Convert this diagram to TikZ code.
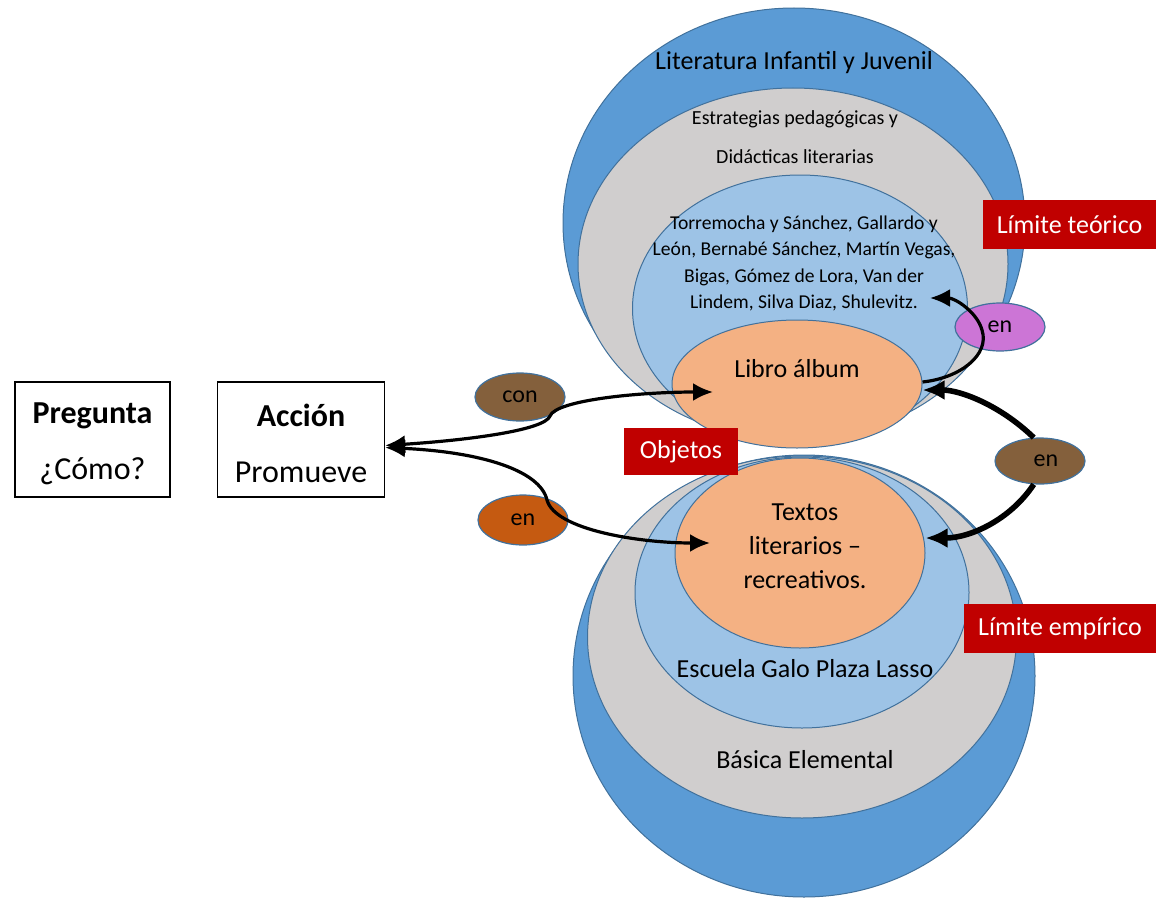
\documentclass[tikz,border=0pt]{standalone}
\usepackage{fontspec}
\setmainfont{Carlito}
\usepackage{tikz}
\usetikzlibrary{arrows.meta, positioning, shapes.geometric}

\definecolor{ringline}{HTML}{41719C}
\definecolor{outerblue}{HTML}{5B9BD5}
\definecolor{ringgray}{HTML}{D0CECE}
\definecolor{paleblue}{HTML}{9DC3E6}
\definecolor{peach}{HTML}{F4B183}
\definecolor{tagred}{HTML}{C00000}
\definecolor{brownbub}{HTML}{84603C}
\definecolor{rustbub}{HTML}{C55A11}
\definecolor{orchidbub}{HTML}{CC75D6}

\tikzset{%
   % concentric fields, sized by their half axes
   ring/.style={
      ellipse,
      draw=ringline,
      line width=.5pt,
      inner sep=0pt
   },
   bubble/.style={
      ellipse,
      draw=ringline,
      line width=.6pt,
      inner sep=0pt,
      minimum width=45pt,
      font=\fontsize{12}{14}\selectfont
   },
   tag/.style={
      fill=tagred,
      text=white,
      inner sep=0pt,
      minimum height=24.5pt,
      font=\fontsize{13}{15}\selectfont
   },
   qbox/.style={
      draw,
      line width=.6pt,
      align=center,
      minimum height=57.5pt,
      font=\fontsize{16}{28}\selectfont
   },
   txt/.style={
      align=center,
      inner sep=0pt,
      font=\fontsize{13}{17}\selectfont
   },
   link/.style={
      line width=1.6pt,
      -{Latex[length=10pt,width=9pt]}
   },
   blink/.style={
      line width=1.6pt,
      {Latex[length=10pt,width=9pt]}-{Latex[length=10pt,width=9pt]}
   },
   heavy/.style={
      line width=2.8pt,
      -{Latex[length=11pt,width=10pt]}
   },
}

\begin{document}
\begin{tikzpicture}[x=.5pt, y=-.5pt]
\useasboundingbox (0,0) rectangle (1156,899);

% upper field
\node[ring, fill=outerblue, minimum width=231pt, minimum height=215pt] (litring) at (794,223) {};
\node[ring, fill=ringgray, minimum width=215pt, minimum height=176pt] (estring) at (793,264) {};
\node[ring, fill=paleblue, minimum width=167.5pt, minimum height=133.5pt] (autring) at (800,308.5) {};
\node[ring, fill=peach, minimum width=125pt, minimum height=64pt] (libro) at (797,384) {};

% lower field
\node[ring, fill=outerblue, minimum width=231pt, minimum height=221pt] (basring) at (804,676) {};
\node[ring, fill=ringgray, minimum width=214.5pt, minimum height=181pt] (elering) at (802,637) {};
\node[ring, fill=paleblue, minimum width=167pt, minimum height=135.5pt] (escring) at (802,592.5) {};
\node[ring, fill=peach, minimum width=125pt, minimum height=95pt] (textos) at (800,553) {};

\node[txt] (lit) at (794,63) {Literatura Infantil y Juvenil};
\node[txt, font=\fontsize{10}{19.5}\selectfont] (estr) at (795,137.5)
   {Estrategias pedagógicas y\\Didácticas literarias};
\node[txt, font=\fontsize{9.8}{13.25}\selectfont] (autores) at (804,263.5)
   {Torremocha y Sánchez, Gallardo y\\León, Bernabé Sánchez, Martín Vegas,\\Bigas, Gómez de Lora, Van der\\Lindem, Silva Diaz, Shulevitz.};
\node[txt] (libtxt) at (797,369) {Libro álbum};
\node[txt] (textxt) at (805,546) {Textos\\literarios –\\recreativos.};
\node[txt] (escuela) at (805,669) {Escuela Galo Plaza Lasso};
\node[txt] (basica) at (805,760) {Básica Elemental};

% question and action
\node[qbox, minimum width=77.5pt] (preg) at (92.5,439.5) {\rule{0pt}{15pt}\textbf{Pregunta}\\¿Cómo?};
\node[qbox, minimum width=83.5pt] (acc) at (301,439.5) {\rule{0pt}{15pt}\textbf{Acción}\\Promueve};

\node[bubble, fill=brownbub, minimum height=24pt] (con) at (520,397) {con};
\node[bubble, fill=rustbub, minimum height=25pt] (enl) at (523,520) {en};
\node[bubble, fill=orchidbub, minimum height=24pt] (enp) at (1000,327) {en};
\node[bubble, fill=brownbub, minimum height=23pt] (enb) at (1040,461) {\hspace{6pt}en};

\draw[blink] ([yshift=-3pt]acc.east) .. controls (470,440) and (545,430) .. (550,416)
   .. controls (556,400) and (640,392) .. ([xshift=-42pt,yshift=-4pt]libro.center);
\draw[blink] ([yshift=-4pt]acc.east) .. controls (480,452) and (540,470) .. (547,500)
   .. controls (555,530) and (640,543) .. ([xshift=-45pt,yshift=5pt]textos.center);
\draw[link] ([yshift=1pt]libro.east) .. controls (960,378) and (990,355) .. (982,330)
   .. controls (977,312) and (955,298) .. ([xshift=65pt,yshift=5.25pt]autring.center);
\draw[heavy] (enb.105) .. controls (1000,405) and (960,390) .. ([yshift=-3pt]libro.east);
\draw[heavy] (enb.-105) .. controls (1010,520) and (970,538) .. ([yshift=7.5pt]textos.east);

\node[tag, minimum width=86.5pt] (limteo) at (1069.5,224.5) {Límite teórico};
\node[tag, minimum width=96pt] (limemp) at (1060,628.5) {Límite empírico};
\node[tag, minimum width=57pt, minimum height=23.5pt] (obj) at (681,451.5) {Objetos};
\end{tikzpicture}
\end{document}
